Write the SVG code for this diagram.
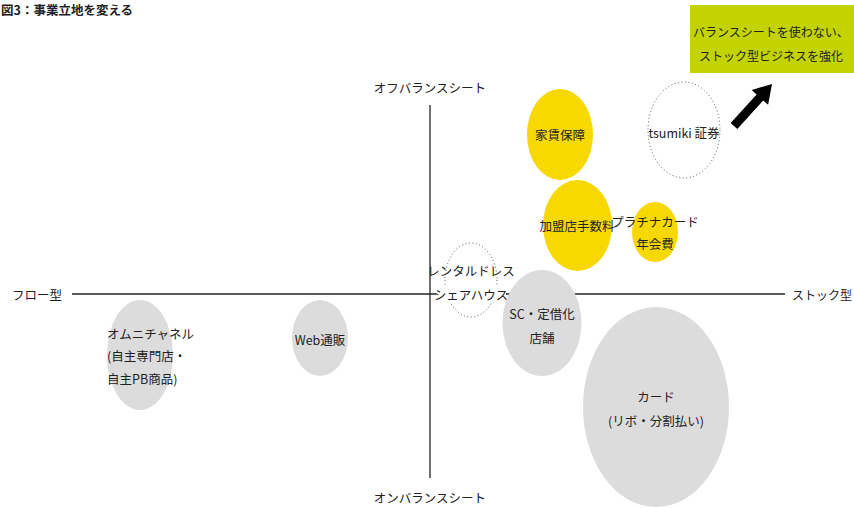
<svg xmlns="http://www.w3.org/2000/svg" width="854" height="508" viewBox="0 0 854 508">
<style>
text{font-family:"Noto Sans CJK JP","Liberation Sans",sans-serif;font-size:12.5px;fill:#222;text-anchor:middle;dominant-baseline:central}
.y{fill:#f7d800}
.g{fill:#dcdcdc}
.d{fill:#fff;stroke:#555;stroke-width:1;stroke-dasharray:1 2.5}
.ax{stroke:#222;stroke-width:1.3}
</style>
<rect width="854" height="508" fill="#fff"/>
<text x="1" y="9" style="text-anchor:start;font-weight:bold;font-size:12.5px">図3：事業立地を変える</text>
<g id="axes">
<line class="ax" x1="72" y1="294" x2="785" y2="294"/>
<line class="ax" x1="430" y1="105" x2="430" y2="478"/>
<text x="430" y="87">オフバランスシート</text>
<text x="430" y="497">オンバランスシート</text>
<text x="37" y="294">フロー型</text>
<text x="822" y="294" style="font-size:12px">ストック型</text>
</g>
<g id="n-yachin"><ellipse class="y" cx="560" cy="134.5" rx="33" ry="45.5"/><text x="560" y="134">家賃保障</text></g>
<g id="n-kamei"><ellipse class="y" cx="577.5" cy="225.5" rx="34.5" ry="45.5"/><text x="577" y="225">加盟店手数料</text></g>
<g id="n-platinum"><ellipse class="y" cx="655" cy="232" rx="23" ry="30"/><text x="655" y="221">プラチナカード</text><text x="655" y="243">年会費</text></g>
<g id="n-tsumiki"><ellipse class="d" cx="684" cy="130" rx="36" ry="48"/><text x="684" y="132">tsumiki 証券</text></g>
<g id="n-rental"><ellipse class="d" cx="471" cy="280" rx="26" ry="37"/><text x="471" y="270">レンタルドレス</text><rect x="436" y="286" width="70" height="16" fill="#fff"/><text x="471" y="294">シェアハウス</text></g>
<g id="n-sc"><ellipse class="g" cx="542" cy="323" rx="39.5" ry="53"/><text x="542" y="313">SC・定借化</text><text x="542" y="337">店舗</text></g>
<g id="n-card"><ellipse class="g" cx="656" cy="407" rx="73" ry="100"/><text x="656" y="396">カード</text><text x="656" y="420">(リボ・分割払い)</text></g>
<g id="n-omni"><ellipse class="g" cx="140" cy="355" rx="33" ry="55"/><text x="107" y="333" style="text-anchor:start">オムニチャネル</text><text x="107" y="355" style="text-anchor:start">(自主専門店・</text><text x="107" y="378" style="text-anchor:start">自主PB商品)</text></g>
<g id="n-web"><ellipse class="g" cx="320" cy="338" rx="28" ry="38"/><text x="320" y="339">Web通販</text></g>
<g id="n-callout"><rect x="690" y="5" width="164" height="68" fill="#c3d300"/><text x="771" y="31" style="font-size:12px">バランスシートを使わない、</text><text x="771" y="55" style="font-size:12px">ストック型ビジネスを強化</text></g>
<g id="connectors"><polygon points="730.7,123 756.6,94.4 751.7,90 772,84 768.1,104.8 763.2,100.4 737.3,129" fill="#000"/></g>
</svg>
